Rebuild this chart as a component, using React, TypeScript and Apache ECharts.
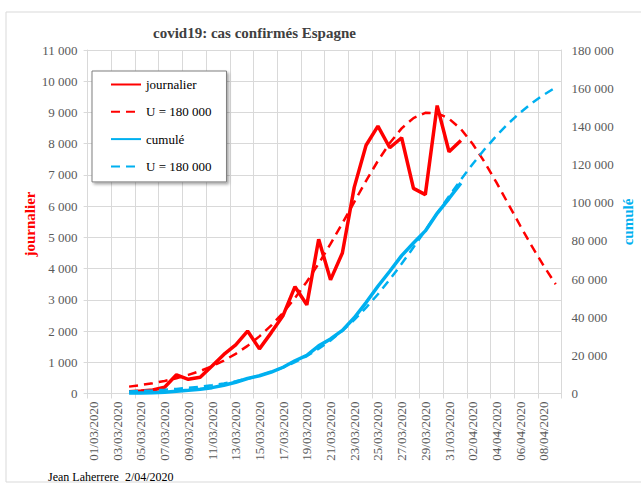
import React, { useEffect, useRef } from "react";
import * as echarts from "echarts";

const dates = [
  "01/03/2020","02/03/2020","03/03/2020","04/03/2020","05/03/2020","06/03/2020","07/03/2020","08/03/2020",
  "09/03/2020","10/03/2020","11/03/2020","12/03/2020","13/03/2020","14/03/2020","15/03/2020","16/03/2020",
  "17/03/2020","18/03/2020","19/03/2020","20/03/2020","21/03/2020","22/03/2020","23/03/2020","24/03/2020",
  "25/03/2020","26/03/2020","27/03/2020","28/03/2020","29/03/2020","30/03/2020","31/03/2020","01/04/2020",
  "02/04/2020","03/04/2020","04/04/2020","05/04/2020","06/04/2020","07/04/2020","08/04/2020","09/04/2020",
];

const daily = [
  null, null, null, 58, 80, 110, 200, 600, 455, 520, 880, 1250, 1560, 2000, 1430, 1950, 2500, 3420, 2840, 4940,
  3640, 4500, 6600, 7950, 8560, 7870, 8190, 6570, 6370, 9220, 7740, 8100, null, null, null, null, null, null, null, null,
];

const dailyModel = [
  null, null, null, 220, 270, 330, 400, 490, 595, 720, 875, 1055, 1270, 1525, 1830, 2180, 2590, 3060, 3580, 4160,
  4790, 5450, 6130, 6810, 7450, 8020, 8490, 8820, 8990, 8980, 8800, 8470, 7990, 7410, 6760, 6070, 5380, 4710, 4080, 3500,
];

const cumul = [
  null, null, null, 220, 300, 410, 610, 1210, 1665, 2185, 3065, 4315, 5875, 7875, 9305, 11255, 13755, 17175, 20015, 24955,
  28595, 33095, 39695, 47645, 56205, 64075, 72265, 78835, 85205, 94425, 102165, 110265, null, null, null, null, null, null, null, null,
];

const cumulModel = [
  null, null, null, 1090, 1330, 1620, 1980, 2410, 2930, 3570, 4340, 5280, 6400, 7760, 9390, 11340, 13660, 16400, 19640, 23420,
  27800, 32840, 38550, 44960, 52020, 59720, 67950, 76600, 85510, 94490, 103390, 112050, 120270, 127970, 135040, 141450, 147160, 152190, 156580, 160360,
];

const legendLabels: Record<string, string> = {
  journalier: "journalier",
  U1: "U = 180 000",
  "cumulé": "cumulé",
  U2: "U = 180 000",
};

const RED = "#FF0000";
const BLUE = "#00B0F0";
const GRID = "#d9d9d9";
const TXT = "#595959";
const FONT = "'Liberation Serif', 'Times New Roman', serif";

const fmt = (v: number) => String(v).replace(/\B(?=(\d{3})+(?!\d))/g, " ");

export default function App() {
  const ref = useRef<HTMLDivElement>(null);
  useEffect(() => {
    if (!ref.current) return;
    const chart = echarts.init(ref.current, null, { renderer: "svg" });
    chart.setOption({
      animation: false,
      backgroundColor: "#ffffff",
      title: {
        text: "covid19: cas confirmés Espagne",
        left: 153,
        top: 25,
        padding: 0,
        textStyle: { fontFamily: FONT, fontSize: 15, fontWeight: "bold", color: "#404040" },
      },
      grid: {
        left: 87.6,
        right: 79.4,
        top: 50,
        bottom: 97.5,
        containLabel: false,
        outerBoundsMode: "none",
      },
      legend: {
        orient: "vertical",
        left: 92,
        top: 71,
        itemWidth: 30,
        itemHeight: 14,
        itemGap: 14.3,
        padding: [7, 15, 9, 18],
        backgroundColor: "#ffffff",
        borderColor: "#7f7f7f",
        borderWidth: 1,
        shadowColor: "rgba(0,0,0,0.35)",
        shadowBlur: 3,
        shadowOffsetX: 2,
        shadowOffsetY: 2,
        itemStyle: { color: "rgba(0,0,0,0)", borderWidth: 0, opacity: 0 },
        data: ["journalier", "U1", "cumulé", "U2"],
        formatter: (name: string) => legendLabels[name] || name,
        textStyle: { fontFamily: FONT, fontSize: 13, color: "#000000" },
      },
      xAxis: {
        type: "category",
        data: dates,
        boundaryGap: true,
        axisLine: { show: true, lineStyle: { color: GRID } },
        axisTick: { show: true, interval: 1, length: 5, lineStyle: { color: GRID } },
        splitLine: { show: true, interval: 1, lineStyle: { color: GRID, width: 1 } },
        axisLabel: {
          interval: 1,
          rotate: 90,
          margin: 8,
          fontFamily: FONT,
          fontSize: 13,
          color: TXT,
        },
      },
      yAxis: [
        {
          type: "value",
          min: 0,
          max: 11000,
          interval: 1000,
          position: "left",
          axisLine: { show: true, lineStyle: { color: GRID } },
          axisTick: { show: true, length: 4, lineStyle: { color: GRID } },
          splitLine: { show: true, lineStyle: { color: GRID, width: 1 } },
          axisLabel: { margin: 10, fontFamily: FONT, fontSize: 13, color: TXT, formatter: fmt },
        },
        {
          type: "value",
          min: 0,
          max: 180000,
          interval: 20000,
          position: "right",
          axisLine: { show: true, lineStyle: { color: GRID } },
          axisTick: { show: false },
          splitLine: { show: false },
          axisLabel: { margin: 10, fontFamily: FONT, fontSize: 13, color: TXT, formatter: fmt },
        },
      ],
      series: [
        {
          name: "journalier",
          type: "line",
          yAxisIndex: 0,
          data: daily,
          symbol: "none",
          showSymbol: false,
          connectNulls: false,
          color: RED,
          lineStyle: { color: RED, width: 3.5 },
        },
        {
          name: "U1",
          type: "line",
          yAxisIndex: 0,
          data: dailyModel,
          symbol: "none",
          showSymbol: false,
          color: RED,
          lineStyle: { color: RED, width: 2.5, type: [9, 6] },
        },
        {
          name: "cumulé",
          type: "line",
          yAxisIndex: 1,
          data: cumul,
          symbol: "none",
          showSymbol: false,
          color: BLUE,
          lineStyle: { color: BLUE, width: 3.5 },
        },
        {
          name: "U2",
          type: "line",
          yAxisIndex: 1,
          data: cumulModel,
          symbol: "none",
          showSymbol: false,
          color: BLUE,
          lineStyle: { color: BLUE, width: 2.5, type: [9, 6] },
        },
      ],
      graphic: [
        {
          type: "rect",
          z: -10,
          silent: true,
          shape: { x: 6, y: 12, width: 700, height: 470 },
          style: { fill: "none", stroke: GRID, lineWidth: 1 },
        },
        {
          type: "text",
          x: 30,
          y: 224,
          rotation: Math.PI / 2,
          style: {
            text: "journalier",
            fill: RED,
            font: `bold 15px ${FONT}`,
            align: "center",
            verticalAlign: "middle",
          },
        },
        {
          type: "text",
          x: 628,
          y: 222,
          rotation: Math.PI / 2,
          style: {
            text: "cumulé",
            fill: BLUE,
            font: `bold 15px ${FONT}`,
            align: "center",
            verticalAlign: "middle",
          },
        },
        {
          type: "text",
          x: 48,
          y: 477,
          style: {
            text: "Jean Laherrere \u00a02/04/2020",
            fill: "#000000",
            font: `12px ${FONT}`,
            align: "left",
            verticalAlign: "middle",
          },
        },
      ],
    });
    return () => chart.dispose();
  }, []);
  return (
    <div
      ref={ref}
      style={{ position: "fixed", left: 0, top: 0, width: 641, height: 491, background: "#fff" }}
    />
  );
}
